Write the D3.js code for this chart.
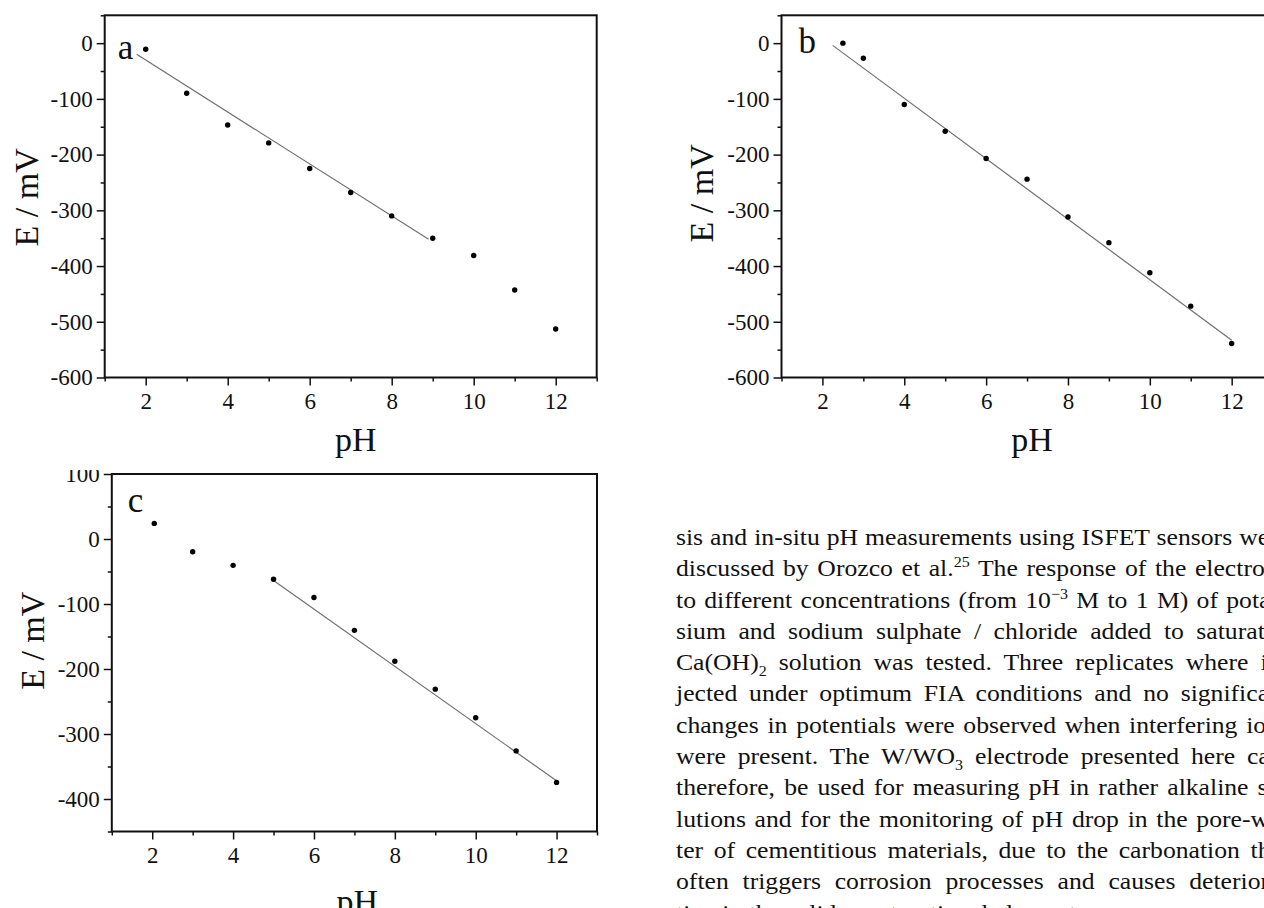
<!DOCTYPE html>
<html>
<head>
<meta charset="utf-8">
<title>E / mV vs pH</title>
<script src="https://cdn.jsdelivr.net/npm/d3@7"></script>
<style>
    body { margin: 0; background: #fff; }
    svg { display: block; font-family: "Liberation Serif", "Times New Roman", serif; }
    .tick text { font-size: 23px; fill: #111; font-family: "Liberation Serif", "Times New Roman", serif; }
    .tick line { stroke: #111; stroke-width: 1.5; }
    .frame { fill: none; stroke: #111; stroke-width: 2; }
    .fit { fill: none; stroke: #707070; stroke-width: 1.2; }
    .axis-label { font-size: 34px; fill: #111; }
    .panel-letter { font-size: 35px; fill: #111; }
    .para { font-size: 24px; fill: #111; }
</style>
</head>
<body>
<div id="chart"></div>
<script>
/* * * * * * * * * * * * * *
*   values  *
* * * * * * * * * * * * * */

// panel a
const phA = [2, 3, 4, 5, 6, 7, 8, 9, 10, 11, 12];
const eA = [-11, -90, -147, -179, -225, -268, -310, -350, -381, -443, -513];
const fitA = [[1.78, -20], [8.9, -352]];

// panel b
const phB = [2.5, 3, 4, 5, 6, 7, 8, 9, 10, 11, 12];
const eB = [0, -27, -110, -158, -207, -244, -312, -358, -412, -472, -539];
const fitB = [[2.25, -4], [12, -533]];

// panel c
const phC = [2.05, 3, 4, 5, 6, 7, 8, 9, 10, 11, 12];
const eC = [24, -19.5, -40.5, -62, -90, -140.5, -188, -231, -275, -326, -374.5];
const fitC = [[5, -64], [12, -372]];

// ticks
const xMajorTicks = [2, 4, 6, 8, 10, 12];
const xMinorTicks = [1, 3, 5, 7, 9, 11, 13];
const yMajorAB = [-600, -500, -400, -300, -200, -100, 0];
const yMinorAB = [-550, -450, -350, -250, -150, -50, 50];
const yMajorC = [-400, -300, -200, -100, 0, 100];
const yMinorC = [-450, -350, -250, -150, -50, 50];

// text column next to panel c (sup / sub marked per segment)
const paraLines = [
    [["sis and in-situ pH measurements using ISFET sensors were"]],
    [["discussed by Orozco et al."], ["25", "sup"], [" The response of the electrode"]],
    [["to different concentrations (from 10"], ["\u22123", "sup"], [" M to 1 M) of potas-"]],
    [["sium and sodium sulphate / chloride added to saturated"]],
    [["Ca(OH)"], ["2", "sub"], [" solution was tested. Three replicates where in-"]],
    [["jected under optimum FIA conditions and no significant"]],
    [["changes in potentials were observed when interfering ions"]],
    [["were present. The W/WO"], ["3", "sub"], [" electrode presented here can,"]],
    [["therefore, be used for measuring pH in rather alkaline so-"]],
    [["lutions and for the monitoring of pH drop in the pore-wa-"]],
    [["ter of cementitious materials, due to the carbonation that"]],
    [["often triggers corrosion processes and causes deteriora-"]],
    [["tion in the solid constructional elements."]]
];


/* * * * * * * * * * * * * *
*         PanelVis         *
* * * * * * * * * * * * * */

class PanelVis {

    constructor(svg, opts, ph, e, fit) {
        this.svg = svg;
        this.opts = opts;
        this.data = ph.map((d, i) => ({ph: d, e: e[i]}));
        this.fit = fit;
        this.initVis();
    }

    initVis() {
        let vis = this;
        let o = vis.opts;

        vis.width = o.right - o.left;
        vis.height = o.bottom - o.top;

        vis.g = vis.svg.append("g")
            .attr("transform", `translate(${o.left},${o.top})`);

        vis.xScale = d3.scaleLinear().domain([1, 13]).range([0, vis.width]);
        vis.yScale = d3.scaleLinear().domain(o.yDomain).range([vis.height, 0]);

        // d3 puts sans-serif / font-size on each axis group, drop them
        let clean = g => g.attr("font-family", null).attr("font-size", null).select(".domain").remove();

        // minor ticks first, then major ticks with labels
        vis.g.append("g")
            .attr("transform", `translate(0,${vis.height})`)
            .call(d3.axisBottom(vis.xScale).tickValues(xMinorTicks).tickSize(4).tickFormat(""))
            .call(clean);

        vis.g.append("g")
            .attr("transform", `translate(0,${vis.height})`)
            .call(d3.axisBottom(vis.xScale).tickValues(xMajorTicks).tickSize(8).tickPadding(7).tickFormat(d => String(d)))
            .call(clean);

        vis.g.append("g")
            .call(d3.axisLeft(vis.yScale).tickValues(o.yMinor).tickSize(4).tickFormat(""))
            .call(clean);

        vis.g.append("g")
            .call(d3.axisLeft(vis.yScale).tickValues(o.yMajor).tickSize(8).tickPadding(4).tickFormat(d => String(d)))
            .call(clean);

        // frame
        vis.g.append("rect")
            .attr("class", "frame")
            .attr("width", vis.width)
            .attr("height", vis.height);

        // axis titles
        vis.g.append("text")
            .attr("class", "axis-label")
            .attr("x", vis.width / 2 + o.xLabelDx)
            .attr("y", vis.height + o.xLabelDy)
            .attr("text-anchor", "middle")
            .text("pH");

        vis.g.append("text")
            .attr("class", "axis-label")
            .attr("transform", `translate(${o.yLabelX},${vis.height / 2 + o.yLabelDy}) rotate(-90)`)
            .attr("text-anchor", "middle")
            .text("E / mV");

        // panel letter
        vis.g.append("text")
            .attr("class", "panel-letter")
            .attr("x", o.letterX)
            .attr("y", o.letterY)
            .text(o.letter);

        vis.updateVis();
    }

    updateVis() {
        let vis = this;

        let line = d3.line()
            .x(d => vis.xScale(d[0]))
            .y(d => vis.yScale(d[1]));

        vis.g.append("path")
            .datum(vis.fit)
            .attr("class", "fit")
            .attr("d", line);

        vis.g.selectAll("circle.pt")
            .data(vis.data)
            .enter().append("circle")
            .attr("class", "pt")
            .attr("cx", d => vis.xScale(d.ph))
            .attr("cy", d => vis.yScale(d.e))
            .attr("r", 2.7)
            .attr("fill", "#000");
    }
}

const svg = d3.select("#chart").append("svg")
    .attr("width", 1264)
    .attr("height", 908);

new PanelVis(svg, {
    left: 104.7, top: 15.3, right: 596.7, bottom: 377.5,
    yDomain: [-600, 50], yMajor: yMajorAB, yMinor: yMinorAB,
    xLabelDx: 5, xLabelDy: 74, yLabelX: -67, yLabelDy: 1,
    letter: "a", letterX: 13, letterY: 44
}, phA, eA, fitA);

new PanelVis(svg, {
    left: 781.5, top: 15.3, right: 1272.6, bottom: 377.5,
    yDomain: [-600, 50], yMajor: yMajorAB, yMinor: yMinorAB,
    xLabelDx: 5, xLabelDy: 74, yLabelX: -69, yLabelDy: -3,
    letter: "b", letterX: 17, letterY: 38
}, phB, eB, fitB);

new PanelVis(svg, {
    left: 111.8, top: 474, right: 597, bottom: 831.5,
    yDomain: [-450, 100], yMajor: yMajorC, yMinor: yMinorC,
    xLabelDx: 3, xLabelDy: 81, yLabelX: -68, yLabelDy: -12,
    letter: "c", letterX: 16, letterY: 38
}, phC, eC, fitC);

// panel c was cropped just above its top tick label
svg.append("rect")
    .attr("x", 30).attr("y", 458)
    .attr("width", 76).attr("height", 12)
    .attr("fill", "#fff");

// justified text column, glyphs a little wider than plain Times
const colLeft = 676, colWidth = 613, firstBase = 545, lineGap = 31.3, stretch = 1.07;

const para = svg.append("g")
    .attr("transform", `translate(${colLeft},0) scale(${stretch},1)`);

paraLines.forEach((segs, i) => {
    let t = para.append("text")
        .attr("class", "para")
        .attr("x", 0)
        .attr("y", firstBase + i * lineGap);

    let shift = 0;
    segs.forEach(s => {
        let ts = t.append("tspan").text(s[0]);
        let target = s[1] === "sup" ? -9 : s[1] === "sub" ? 6 : 0;
        if (target !== shift) ts.attr("dy", target - shift);
        if (s[1]) ts.style("font-size", "15px");
        shift = target;
    });

    let full = segs.map(s => s[0]).join("");
    let spaces = (full.match(/ /g) || []).length;
    let natural = t.node().getComputedTextLength();
    if (spaces > 0 && i < paraLines.length - 1) {
        t.attr("word-spacing", (colWidth / stretch - natural) / spaces);
    }
});
</script>
</body>
</html>
